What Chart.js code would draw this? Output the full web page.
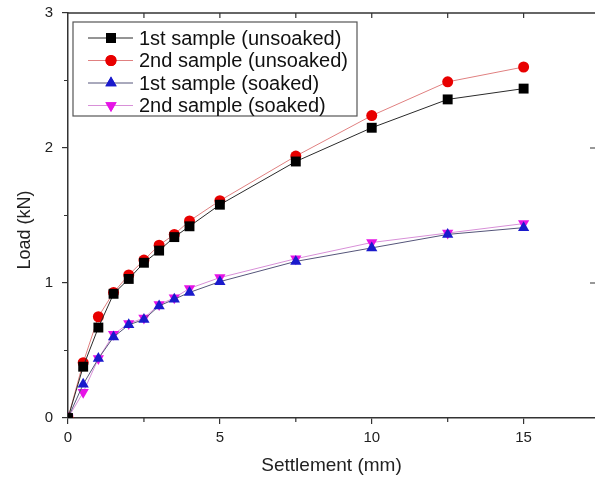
<!DOCTYPE html>
<html>
<head>
<meta charset="utf-8">
<script src="https://cdn.jsdelivr.net/npm/chart.js@4"></script>
<style>
  html, body { margin: 0; padding: 0; background: #fff; }
  #wrap { width: 595px; height: 481px; }
</style>
</head>
<body>
<div id="wrap"><canvas id="load-chart" width="595" height="481"></canvas></div>
<script>
// settlement (mm) readings, same for all four tests
const settlement = [0, 0.5, 1, 1.5, 2, 2.5, 3, 3.5, 4, 5, 7.5, 10, 12.5, 15];

// load (kN)
const unsoaked1 = [0, 0.38, 0.67, 0.92, 1.03, 1.15, 1.24, 1.34, 1.42, 1.58, 1.90, 2.15, 2.36, 2.44];
const unsoaked2 = [0, 0.41, 0.75, 0.93, 1.06, 1.17, 1.28, 1.36, 1.46, 1.61, 1.94, 2.24, 2.49, 2.60];
const soaked1   = [0, 0.25, 0.44, 0.60, 0.69, 0.73, 0.83, 0.88, 0.93, 1.01, 1.16, 1.26, 1.36, 1.41];
const soaked2   = [0, 0.19, 0.44, 0.62, 0.70, 0.74, 0.84, 0.89, 0.96, 1.04, 1.18, 1.30, 1.37, 1.44];

const seriesLabels = ['1st sample (unsoaked)', '2nd sample (unsoaked)', '1st sample (soaked)', '2nd sample (soaked)'];

const xTicks = [0, 5, 10, 15];
const yTicks = [0, 1, 2, 3];

const FONT = '"Liberation Sans", Arial, sans-serif';

function toPoints(ys) {
  return settlement.map((x, i) => ({ x: x, y: ys[i] }));
}

// frame, minor ticks, y title and the boxed legend
const framePlugin = {
  id: 'frame',
  afterDraw(chart) {
    const ctx = chart.ctx;
    const a = chart.chartArea;
    const xs = chart.scales.x;
    const ys = chart.scales.y;
    ctx.save();
    ctx.strokeStyle = '#333';
    ctx.lineWidth = 1.5;
    ctx.beginPath();
    ctx.moveTo(a.left, a.top);
    ctx.lineTo(chart.width, a.top);
    ctx.stroke();

    // minor ticks bottom / top / left, stubs of the right axis
    ctx.lineWidth = 1.2;
    ctx.beginPath();
    for (let v = 2.5; v < 17.3; v += 5) {
      const px = xs.getPixelForValue(v);
      ctx.moveTo(px, a.bottom);
      ctx.lineTo(px, a.bottom + 4);
    }
    for (let v = 2.5; v < 17.3; v += 2.5) {
      const px = xs.getPixelForValue(v);
      ctx.moveTo(px, a.top);
      ctx.lineTo(px, a.top + 5);
    }
    for (let v = 0.5; v < 3; v += 1) {
      const py = ys.getPixelForValue(v);
      ctx.moveTo(a.left, py);
      ctx.lineTo(a.left - 4, py);
    }
    [1, 2].forEach(v => {
      const py = ys.getPixelForValue(v);
      ctx.moveTo(chart.width - 5, py);
      ctx.lineTo(chart.width, py);
    });
    ctx.stroke();

    // y axis title
    ctx.fillStyle = '#222';
    ctx.font = '18px ' + FONT;
    ctx.textAlign = 'center';
    ctx.textBaseline = 'middle';
    ctx.translate(25, 230);
    ctx.rotate(-Math.PI / 2);
    ctx.fillText('Load (kN)', 0, 0);
    ctx.setTransform(1, 0, 0, 1, 0, 0);

    // legend
    const lx = a.left + 5, ly = a.top + 9, lw = 284, lh = 94;
    ctx.strokeStyle = '#555';
    ctx.lineWidth = 1.2;
    ctx.fillStyle = '#fff';
    ctx.fillRect(lx, ly, lw, lh);
    ctx.strokeRect(lx, ly, lw, lh);
    ctx.font = '20px ' + FONT;
    ctx.textAlign = 'left';
    ctx.textBaseline = 'middle';
    chart.data.datasets.forEach((ds, i) => {
      const rowY = ly + 16 + i * 22.5;
      ctx.strokeStyle = ds.borderColor;
      ctx.lineWidth = 1;
      ctx.beginPath();
      ctx.moveTo(lx + 15, rowY);
      ctx.lineTo(lx + 60, rowY);
      ctx.stroke();
      ctx.fillStyle = ds.pointBackgroundColor;
      ctx.beginPath();
      Chart.helpers.drawPoint(ctx, {
        pointStyle: ds.pointStyle,
        rotation: ds.rotation || 0,
        radius: ds.pointRadius,
        borderWidth: 0
      }, lx + 38, rowY);
      ctx.fill();
      ctx.fillStyle = '#111';
      ctx.fillText(ds.label, lx + 66, rowY + 1);
    });
    ctx.restore();
  }
};

const datasetDefs = [
  { data: unsoaked1, line: '#2a2a2a', fill: '#000000', style: 'rect', r: 7, rot: 0 },
  { data: unsoaked2, line: '#e08080', fill: '#e80000', style: 'circle', r: 5.5, rot: 0 },
  { data: soaked1,   line: '#55557a', fill: '#1a1acc', style: 'triangle', r: 6.5, rot: 0 },
  { data: soaked2,   line: '#d890d8', fill: '#e614e6', style: 'triangle', r: 6.5, rot: 180 }
];

const ctxLoad = document.getElementById('load-chart').getContext('2d');
const loadChart = new Chart(ctxLoad, {
  type: 'scatter',
  data: {
    datasets: datasetDefs.map((d, i) => ({
      label: seriesLabels[i],
      data: toPoints(d.data),
      showLine: true,
      borderColor: d.line,
      borderWidth: 1,
      pointStyle: d.style,
      rotation: d.rot,
      pointRadius: d.r,
      pointHoverRadius: d.r,
      pointBackgroundColor: d.fill,
      pointBorderColor: d.fill,
      pointBorderWidth: 0
    }))
  },
  plugins: [framePlugin],
  options: {
    responsive: false,
    animation: false,
    layout: { autoPadding: false, padding: { top: 13, right: 0, left: 0, bottom: 0 } },
    plugins: {
      legend: { display: false },
      tooltip: { enabled: false }
    },
    scales: {
      x: {
        type: 'linear',
        min: 0,
        max: 17.35,
        afterBuildTicks: (scale) => { scale.ticks = xTicks.map(v => ({ value: v })); },
        afterFit: (scale) => { scale.height = 63; scale.paddingLeft = 0; scale.paddingRight = 0; },
        ticks: { font: { size: 15, family: FONT }, color: '#222', padding: 5, maxRotation: 0 },
        grid: { drawOnChartArea: false, tickLength: 6, color: '#333', lineWidth: 1.2 },
        border: { color: '#333', width: 1.5 },
        title: {
          display: true,
          text: 'Settlement (mm)',
          font: { size: 19, family: FONT },
          color: '#222',
          padding: { top: 3 }
        }
      },
      y: {
        min: 0,
        max: 3,
        afterBuildTicks: (scale) => { scale.ticks = yTicks.map(v => ({ value: v })); },
        afterFit: (scale) => { scale.width = 68; scale.paddingTop = 0; scale.paddingBottom = 0; },
        ticks: { font: { size: 15, family: FONT }, color: '#222', padding: 9 },
        grid: { drawOnChartArea: false, tickLength: 6, color: '#333', lineWidth: 1.2 },
        border: { color: '#333', width: 1.5 }
      }
    }
  }
});
</script>
</body>
</html>
